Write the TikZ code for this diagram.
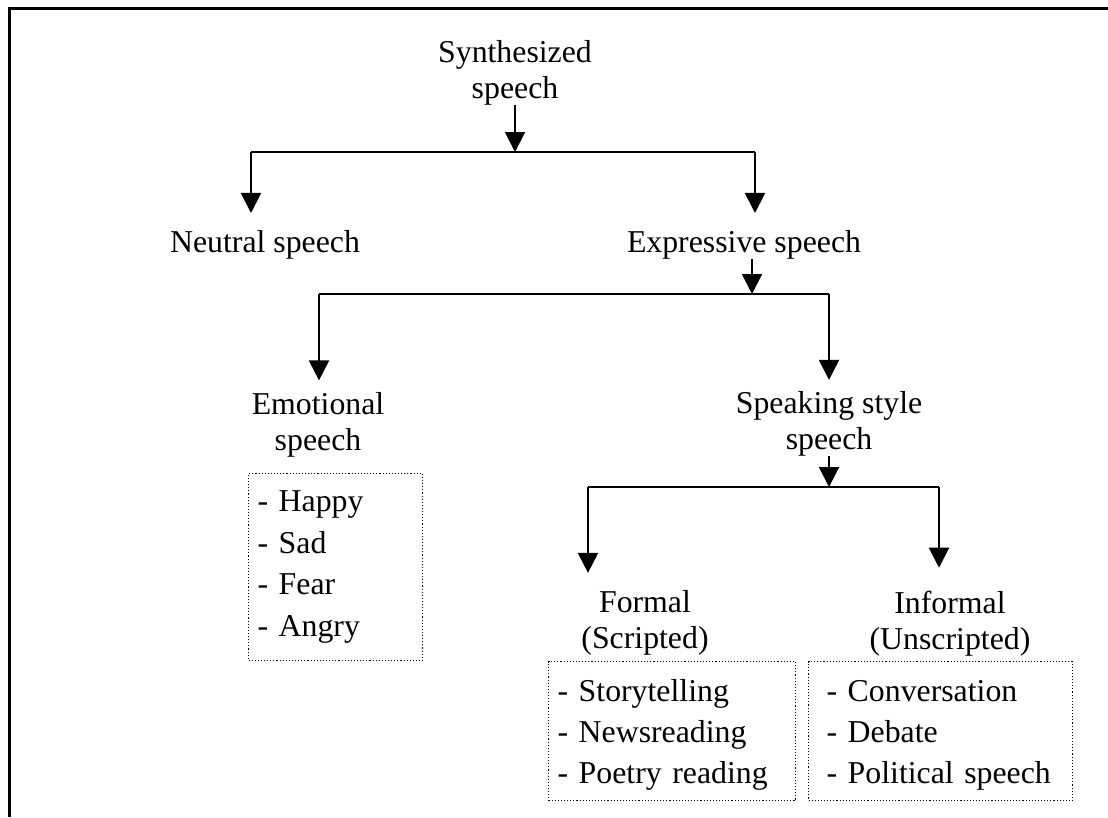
\documentclass[tikz,border=0pt]{standalone}
\usepackage{fontspec}
\setmainfont{Liberation Serif}
\usetikzlibrary{arrows.meta}
\begin{document}
\begin{tikzpicture}[x=1pt,y=-1pt,
  lbl/.style={font=\fontsize{31.8}{36}\selectfont, align=center, inner sep=0pt},
  listbox/.style={draw, dotted, line width=1.1pt, anchor=north west,
    align=left, inner ysep=0pt},
  arr/.style={-{Triangle[width=20pt,length=20pt]}, line width=2pt},
  bar/.style={line width=2pt}]
\useasboundingbox (0,0) rectangle (1108,817);
% outer frame (top and left edges)
\draw[line width=3pt] (9,817) -- (9,8) -- (1108,8);

% category labels
\node[lbl] (syn) at (515,72.5) {Synthesized\\speech};
\node[lbl] (neu) at (265,244.6) {Neutral speech};
\node[lbl] (exp) at (744,244.6) {Expressive speech};
\node[lbl] (emo) at (318,425) {Emotional\\speech};
\node[lbl] (sty) at (829,423.5) {Speaking style\\speech};
\node[lbl] (for) at (645,622.5) {Formal\\(Scripted)};
\node[lbl] (inf) at (950,623.5) {Informal\\(Unscripted)};

% example lists
\node[listbox, inner xsep=9pt, text width=156pt, minimum height=187pt,
  font=\fontsize{31.8}{41.7}\selectfont] (emol) at (248,473)
  {\mbox{- Happy}\\\mbox{- Sad}\\\mbox{- Fear}\\\mbox{- Angry}};
\node[listbox, inner xsep=9pt, text width=229pt, minimum height=139pt,
  text height=30pt, font=\fontsize{31.8}{40.8}\selectfont] (forl) at (548,661)
  {\mbox{- Storytelling}\\\mbox{- Newsreading}\\\mbox{- Poetry reading}};
\node[listbox, inner xsep=18pt, text width=228pt, minimum height=139pt,
  text height=30pt, font=\fontsize{31.8}{40.8}\selectfont] (infl) at (808,661)
  {\mbox{- Conversation}\\\mbox{- Debate}\\\mbox{- Political speech}};

% branching bars
\coordinate (b1l) at (251,152);
\coordinate (b1r) at (755,152);
\coordinate (b2m) at (752,294);
\coordinate (b2l) at (319,294);
\coordinate (b2r) at (829,294);
\coordinate (b3l) at (588,487);
\coordinate (b3r) at (939,487);

\draw[arr] (syn.south) -- (syn.south |- b1l);
\draw[bar] (b1l) -- (b1r);
\draw[arr, shorten >=17pt] (b1l) -- (b1l |- neu.north);
\draw[arr, shorten >=17pt] (b1r) -- (b1r |- exp.north);

\draw[arr] (b2m |- exp.south) -- (b2m);
\draw[bar] (b2l) -- (b2r);
\draw[arr, shorten >=12pt] (b2l) -- (b2l |- emo.north);
\draw[arr, shorten >=11pt] (b2r) -- (b2r |- sty.north);

\draw[arr] (sty.south) -- (sty.south |- b3l);
\draw[bar] (b3l) -- (b3r);
\draw[arr, shorten >=17pt] (b3l) -- (b3l |- for.north);
\draw[arr, shorten >=23pt] (b3r) -- (b3r |- inf.north);
\end{tikzpicture}
\end{document}
